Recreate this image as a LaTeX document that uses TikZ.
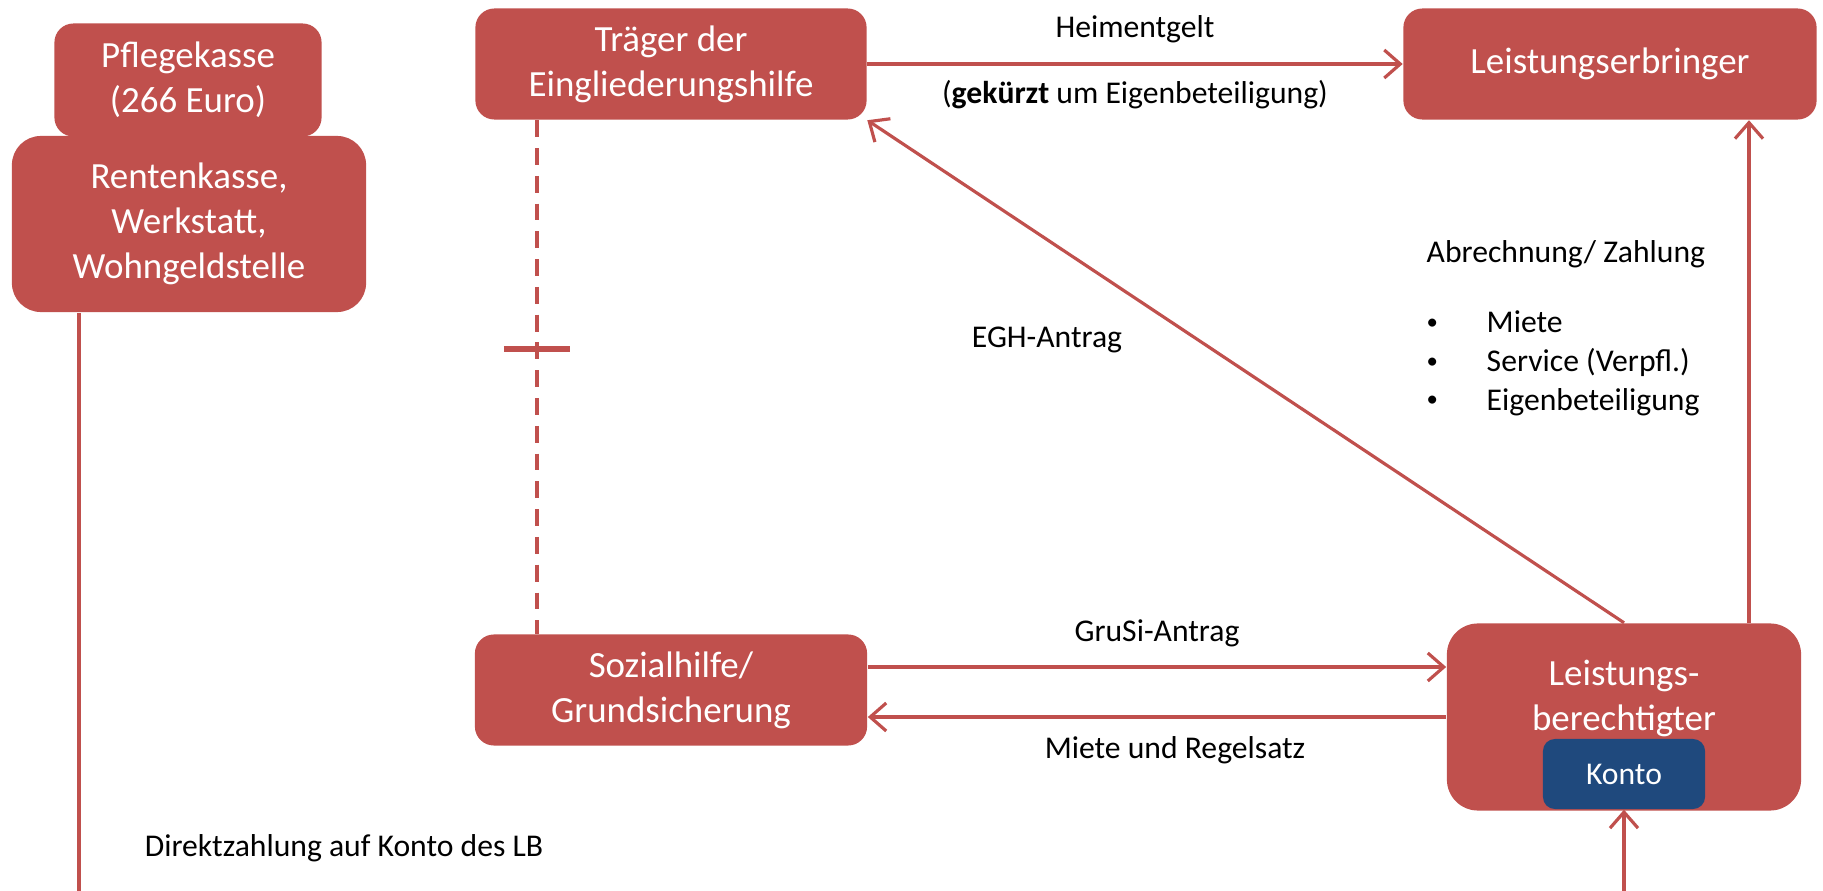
\documentclass[tikz,border=0pt]{standalone}
\usepackage{fontspec}
\setmainfont{Carlito}
\usetikzlibrary{arrows.meta}
\definecolor{rot}{HTML}{C0504D}
\definecolor{blau}{HTML}{1F497D}
\tikzset{
  kasten/.style={fill=rot, text=white, align=center, inner sep=0pt, font=\fontsize{10.5}{12.8}\selectfont},
  notiz/.style={text=black, inner sep=0pt, font=\fontsize{9}{11.4}\selectfont},
  linie/.style={draw=rot, line width=0.9pt},
  pfeil/.style={linie, -{Straight Barb[length=1.6mm,width=2.8mm]}},
}
\newcommand{\punkt}{\makebox[0.6cm][l]{\raisebox{0.25ex}{\scalebox{0.72}{\textbullet}}}}

\begin{document}
\begin{tikzpicture}[x=0.01cm, y=-0.01cm]
\useasboundingbox (0,0) rectangle (1823,891);

\node[kasten, minimum width=2.67cm, minimum height=1.13cm, rounded corners=0.19cm] (pflege) at (188,80) {Pflegekasse\\(266 Euro)};
\node[kasten, minimum width=3.54cm, minimum height=1.76cm, rounded corners=0.29cm] (rente) at (189,224) {Rentenkasse,\\Werkstatt,\\Wohngeldstelle};
\node[kasten, minimum width=3.91cm, minimum height=1.11cm, rounded corners=0.19cm] (traeger) at (671,64) {Träger der\\Eingliederungshilfe};
\node[kasten, minimum width=4.13cm, minimum height=1.11cm, rounded corners=0.19cm] (erbringer) at (1610,64) {Leistungserbringer};
\node[kasten, minimum width=3.92cm, minimum height=1.11cm, rounded corners=0.19cm] (sozial) at (671,690) {Sozialhilfe/\\Grundsicherung};
\node[kasten, minimum width=3.54cm, minimum height=1.87cm, rounded corners=0.31cm] (lb) at (1624,717) {};
\node[kasten, fill=none] (lbtext) at (1624,698) {Leistungs-\\berechtigter};
\node[kasten, fill=blau, minimum width=1.62cm, minimum height=0.70cm, rounded corners=0.12cm, font=\fontsize{9}{11}\selectfont] (konto) at (1624,774) {Konto};

\coordinate (sperre) at (537,349);
\coordinate (boden) at (79,891);
\coordinate (zahlung) at (1749,400);
\coordinate (antrag) at (0,667);
\coordinate (geld) at (0,717);

\draw[pfeil] (traeger) -- (erbringer);
\draw[pfeil] (sozial.east |- antrag) -- (lb.west |- antrag);
\draw[pfeil] (lb.west |- geld) -- (sozial.east |- geld);
\draw[pfeil] (lb.north) -- (traeger.south east);
\draw[pfeil] (lb.north -| zahlung) -- (erbringer.south -| zahlung);
\draw[pfeil] (konto |- boden) -- (konto.south);
\draw[linie] (rente.south -| boden) -- (boden);
\draw[linie, dash pattern=on 4.8pt off 3.1pt] (traeger.south -| sperre) -- (sozial.north -| sperre);
\draw[rot, line width=1.7pt] ([xshift=-0.33cm]sperre) -- ([xshift=0.33cm]sperre);

\node[notiz] (heim) at (1135,29) {Heimentgelt};
\node[notiz] (kuerz) at (1135,95) {(\textbf{gekürzt} um Eigenbeteiligung)};
\node[notiz] (egh) at (1047,340) {EGH-Antrag};
\node[notiz] (grusi) at (1157,633) {GruSi-Antrag};
\node[notiz] (regel) at (1175,750) {Miete und Regelsatz};
\node[notiz] (direkt) at (344,848) {Direktzahlung auf Konto des LB};
\node[notiz, anchor=base west] (abr) at (1426,263) {Abrechnung/ Zahlung};
\foreach \y/\t [count=\i] in {333/Miete, 372/Service (Verpfl.), 410/Eigenbeteiligung}
  \node[notiz, anchor=base west] (punkt\i) at (1426,\y) {\punkt\t};
\end{tikzpicture}
\end{document}
